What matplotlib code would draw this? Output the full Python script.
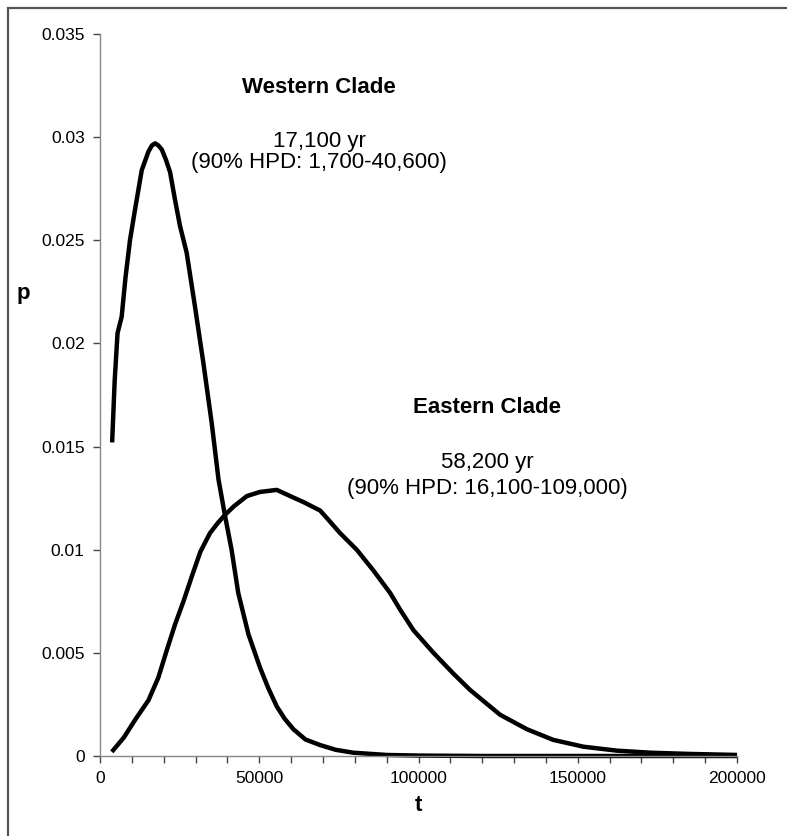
import matplotlib.pyplot as plt
from matplotlib.patches import Rectangle
from matplotlib.ticker import MultipleLocator, FuncFormatter

plt.rcParams['font.family'] = ['Liberation Sans', 'DejaVu Sans']

# posterior densities (t in years)
west_t = [3800, 4600, 5500, 6800, 8000, 9400, 11000, 13100, 15200, 16300,
          17300, 18300, 19400, 20700, 22000, 23500, 25100, 27200, 29800, 32500,
          35100, 37200, 39300, 41300, 43400, 46600, 50200, 52800, 55500, 58000,
          60700, 64500, 69100, 74000, 79500, 90000, 100000, 120000, 150000, 200000]
west_p = [0.0152, 0.0182, 0.0205, 0.0213, 0.0232, 0.0250, 0.0265, 0.0284, 0.0293, 0.0296,
          0.0297, 0.0296, 0.0294, 0.0289, 0.0283, 0.0270, 0.0257, 0.0244, 0.0218, 0.0190,
          0.0161, 0.0134, 0.0116, 0.0100, 0.0079, 0.0059, 0.0043, 0.0033, 0.0024, 0.0018,
          0.0013, 0.0008, 0.00053, 0.0003, 0.00016, 0.00005, 0.00002, 0.0, 0.0, 0.0]

east_t = [3700, 7500, 11000, 15200, 18300, 20900, 23600, 26200, 28800, 31500,
          34500, 37000, 39300, 42000, 46100, 50200, 55500, 59700, 64000, 69100,
          72000, 75400, 80600, 85800, 91100, 94200, 98400, 104700, 110900, 116200,
          125600, 134000, 142300, 151800, 162200, 172700, 185300, 200000]
east_p = [0.0002, 0.0009, 0.00175, 0.0027, 0.0038, 0.0051, 0.0064, 0.0075, 0.0087, 0.0099,
          0.0108, 0.0113, 0.0117, 0.0121, 0.0126, 0.0128, 0.0129, 0.0126, 0.0123, 0.0119,
          0.0114, 0.0108, 0.0100, 0.0090, 0.0079, 0.0071, 0.0061, 0.0050, 0.0040, 0.0032,
          0.0020, 0.0013, 0.00078, 0.00045, 0.00026, 0.00016, 0.0001, 0.00005]

labels = [
    ('Western Clade', '17,100 yr', '(90% HPD: 1,700-40,600)'),
    ('Eastern Clade', '58,200 yr', '(90% HPD: 16,100-109,000)'),
]

fig = plt.figure(figsize=(7.87, 8.36), dpi=100)
ax = fig.add_axes([0.1271, 0.0957, 0.8094, 0.8636])

for t, p in [(west_t, west_p), (east_t, east_p)]:
    ax.plot(t, p, color='black', lw=3.2, clip_on=False,
            solid_capstyle='butt', solid_joinstyle='round')

ax.set_xlim(0, 200000)
ax.set_ylim(0, 0.035)
ax.xaxis.set_major_locator(MultipleLocator(50000))
ax.xaxis.set_minor_locator(MultipleLocator(10000))
ax.yaxis.set_major_locator(MultipleLocator(0.005))
ax.xaxis.set_major_formatter(FuncFormatter(lambda v, pos: '%d' % v))
ax.yaxis.set_major_formatter(FuncFormatter(lambda v, pos: '%g' % round(v, 3)))

for s in ['top', 'right']:
    ax.spines[s].set_visible(False)
for s in ['left', 'bottom']:
    ax.spines[s].set_color('#888888')
    ax.spines[s].set_linewidth(1)
ax.tick_params(which='both', direction='out', length=5, width=1, color='#444444',
               labelsize=12.5, pad=6)

ax.text(-0.12, 0.64, 'p', transform=ax.transAxes, fontsize=16, fontweight='bold',
        ha='center', va='center')
ax.text(0.5, -0.068, 't', transform=ax.transAxes, fontsize=16, fontweight='bold',
        ha='center', va='center')

# annotations
ax.text(68800, 0.0324, labels[0][0], fontsize=16, fontweight='bold', ha='center', va='center')
ax.text(68800, 0.0298, labels[0][1], fontsize=16, ha='center', va='center')
ax.text(68800, 0.02875, labels[0][2], fontsize=16, ha='center', va='center')
ax.text(121500, 0.0169, labels[1][0], fontsize=16, fontweight='bold', ha='center', va='center')
ax.text(121500, 0.01425, labels[1][1], fontsize=16, ha='center', va='center')
ax.text(121500, 0.01299, labels[1][2], fontsize=16, ha='center', va='center')

# outer frame (cut off at right and bottom)
fig.patches.append(Rectangle((7.5 / 787, -0.1), 1.2, 1.1 - 7.5 / 836, transform=fig.transFigure,
                             fill=False, edgecolor='#555555', lw=1.6))

fig.savefig('out.png', dpi=100)
